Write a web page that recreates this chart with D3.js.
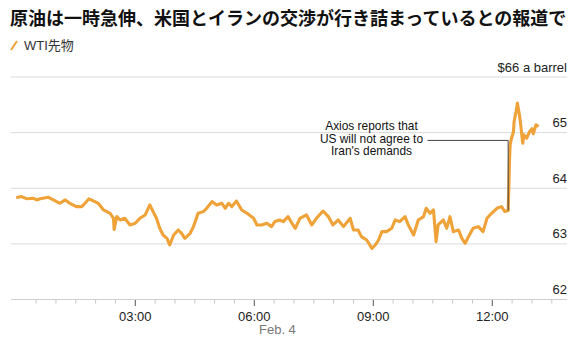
<!DOCTYPE html>
<html>
<head>
<meta charset="utf-8">
<script src="https://cdn.jsdelivr.net/npm/d3@7"></script>
<style>
  body { margin: 0; background: #fff; }
  svg text { font-family: "Liberation Sans", Arial, sans-serif; }
</style>
</head>
<body>
<svg id="chart" width="585" height="350"></svg>
<script>
// WTI futures, Feb. 4 (intraday)
const times = [
  "00:00","00:08","00:16","00:26","00:31","00:36","00:48","00:56","01:06","01:14",
  "01:21","01:31","01:39","01:44","01:50","01:59","02:04","02:12","02:22","02:27",
  "02:28","02:32","02:37","02:44","02:52","03:00","03:07","03:15","03:22","03:27",
  "03:32","03:37","03:42","03:48","03:52","03:58","04:05","04:10","04:15","04:23",
  "04:28","04:35","04:43","04:48","04:56","05:03","05:11","05:16","05:21","05:26",
  "05:33","05:41","05:49","05:59","06:04","06:11","06:19","06:26","06:31","06:38",
  "06:44","06:51","06:57","07:02","07:09","07:19","07:27","07:34","07:44","07:52",
  "07:59","08:07","08:15","08:25","08:30","08:37","08:42","08:50","08:58","09:03",
  "09:08","09:13","09:20","09:28","09:33","09:40","09:48","09:53","10:01","10:08",
  "10:16","10:20","10:26","10:31","10:35","10:38","10:46","10:51","10:56","11:01",
  "11:09","11:14","11:19","11:24","11:31","11:39","11:46","11:52","11:59","12:07",
  "12:14","12:19","12:24","12:25","12:26","12:27","12:29","12:32","12:33","12:36",
  "12:38","12:41","12:43","12:46","12:48","12:52","12:56","13:00","13:02","13:06",
  "13:10"
];
const prices = [
  63.83,63.85,63.81,63.82,63.79,63.81,63.84,63.79,63.73,63.79,
  63.73,63.67,63.67,63.73,63.81,63.76,63.73,63.61,63.55,63.46,
  63.26,63.49,63.43,63.46,63.34,63.37,63.46,63.52,63.70,63.58,
  63.46,63.28,63.16,63.10,62.98,63.16,63.25,63.19,63.10,63.19,
  63.31,63.55,63.58,63.64,63.76,63.70,63.73,63.64,63.73,63.67,
  63.77,63.61,63.55,63.46,63.34,63.34,63.37,63.31,63.40,63.43,
  63.40,63.49,63.37,63.28,63.46,63.52,63.34,63.46,63.59,63.49,
  63.34,63.43,63.31,63.46,63.25,63.25,63.13,63.07,62.92,62.98,
  63.07,63.22,63.22,63.28,63.43,63.40,63.49,63.34,63.16,63.43,
  63.49,63.64,63.55,63.61,63.04,63.34,63.43,63.28,63.49,63.22,
  63.25,63.10,63.01,63.13,63.28,63.31,63.22,63.46,63.55,63.64,
  63.67,63.58,63.60,64.00,64.48,64.78,64.90,65.01,65.20,65.38,
  65.53,65.32,65.14,64.81,64.96,64.90,65.01,65.07,64.98,65.14,
  65.11
];

const yTicks = [62, 63, 64, 65, 66];
const xTickLabels = ["03:00", "06:00", "09:00", "12:00"];
const title = "原油は一時急伸、米国とイランの交渉が行き詰まっているとの報道で";
const seriesName = "WTI先物";
const dateLabel = "Feb. 4";
const annoLines = ["Axios reports that", "US will not agree to", "Iran's demands"];
const annoTime = "12:24", annoPrice = 63.60, annoLevel = 64.86;

const parse = d3.utcParse("%Y-%m-%d %H:%M");
const day = "2025-02-04";
const data = times.map((t, i) => ({ t: parse(day + " " + t), v: prices[i] }));

const orange = "#eea238";
const svg = d3.select("#chart");
const plotLeft = 11, plotRight = 567, plotTop = 77, plotBottom = 299.5;

const x = d3.scaleUtc()
  .domain([parse("2025-02-03 23:52"), parse("2025-02-04 13:53")])
  .range([plotLeft, plotRight]);
const y = d3.scaleLinear().domain([62, 66]).range([plotBottom, plotTop]);

// title + legend
svg.append("text").attr("x", 10).attr("y", 25)
  .style("font-family", "'Noto Sans CJK JP', sans-serif")
  .style("font-weight", 700).style("font-size", "18px").attr("fill", "#111")
  .text(title);
svg.append("line").attr("x1", 11).attr("y1", 50).attr("x2", 17).attr("y2", 41)
  .attr("stroke", orange).attr("stroke-width", 2);
svg.append("text").attr("x", 24).attr("y", 50)
  .style("font-family", "'Liberation Sans', 'Noto Sans CJK JP', sans-serif")
  .style("font-size", "13px").attr("fill", "#333").text(seriesName);

// gridlines + right labels
svg.append("g").selectAll("line").data(yTicks).join("line")
  .attr("x1", plotLeft).attr("x2", plotRight)
  .attr("y1", d => y(d)).attr("y2", d => y(d))
  .attr("stroke", d => d === 62 ? "#cfcfcf" : "#dadada").attr("stroke-width", 1);
svg.append("g").selectAll("text").data(yTicks).join("text")
  .attr("x", plotRight).attr("y", d => y(d) - 5.5)
  .attr("text-anchor", "end").style("font-size", "13px").attr("fill", "#222")
  .text(d => d === 66 ? "$66 a barrel" : d);

// x axis ticks
const fmt = d3.utcFormat("%H:%M");
const ticks = x.ticks(d3.utcMinute.every(30)).filter(d => fmt(d) !== "00:00");
const axis = svg.append("g");
axis.selectAll("line").data(ticks).join("line")
  .attr("x1", d => x(d)).attr("x2", d => x(d))
  .attr("y1", plotBottom + 0.5)
  .attr("y2", d => plotBottom + (xTickLabels.includes(fmt(d)) ? 6.5 : 4))
  .attr("stroke", d => xTickLabels.includes(fmt(d)) ? "#555" : "#c4c4c4");
axis.selectAll("text").data(ticks.filter(d => xTickLabels.includes(fmt(d)))).join("text")
  .attr("x", d => x(d)).attr("y", 320.5).attr("text-anchor", "middle")
  .style("font-size", "13px").attr("fill", "#222").text(d => fmt(d));
svg.append("text").attr("x", 259).attr("y", 334)
  .style("font-size", "13px").attr("fill", "#777").text(dateLabel);

// price line
svg.append("path").datum(data)
  .attr("fill", "none").attr("stroke", orange).attr("stroke-width", 3.1)
  .attr("stroke-linejoin", "round")
  .attr("d", d3.line().x(d => x(d.t)).y(d => y(d.v)));

// annotation
const ax = x(parse(day + " " + annoTime));
const ly = y(annoLevel);
const textX = 371.5;
svg.append("path")
  .attr("d", `M${textX + 56},${ly}H${ax}V${y(annoPrice)}`)
  .attr("fill", "none").attr("stroke", "#444").attr("stroke-width", 1);
svg.append("g").selectAll("text").data(annoLines).join("text")
  .attr("x", textX).attr("y", (d, i) => ly - 10.5 + i * 12.7)
  .attr("text-anchor", "middle").style("font-size", "11.9px").attr("fill", "#111")
  .text(d => d);
</script>
</body>
</html>
